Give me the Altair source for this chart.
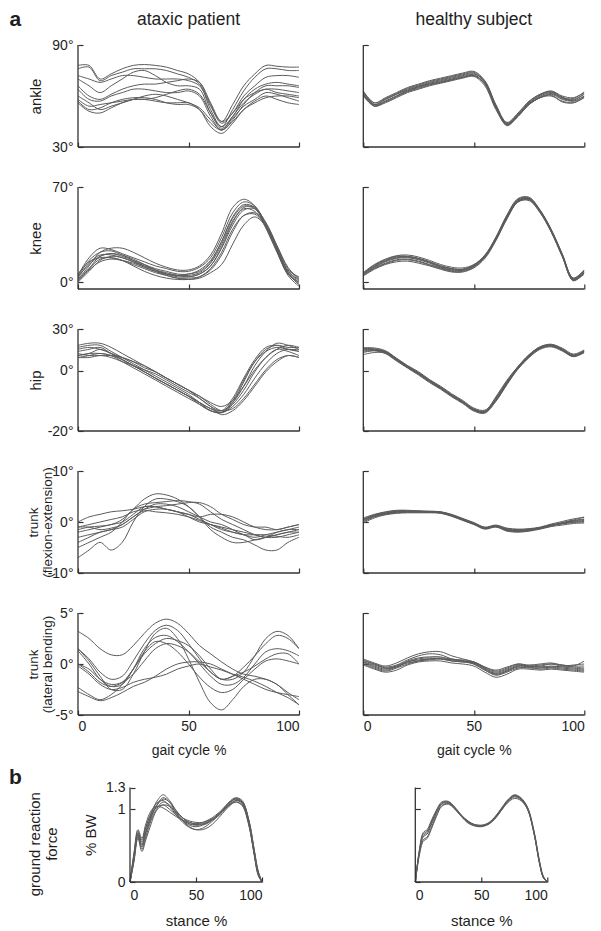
import altair as alt
import pandas as pd

# ---------------- data ----------------
GAIT_X = [0, 5, 10, 15, 20, 25, 30, 35, 40, 45, 50, 55, 60, 65, 70, 75, 80, 85, 90, 95, 100]
STANCE_X = [0, 3, 6, 9, 12, 16, 20, 25, 30, 35, 40, 45, 50, 55, 60, 65, 70, 75, 80, 85, 90, 94, 97, 100]

ANKLE_ATAXIC = [
    [78, 78, 70, 73, 76, 78, 78.5, 78, 77, 75, 73, 68, 55, 45, 55, 66, 73, 78, 77.5, 77, 77],
    [76, 77, 69, 72, 74, 76, 76, 76, 75, 73, 71, 67, 52, 42, 52, 63, 71, 76, 76, 75, 75],
    [72, 70, 68, 70, 72, 72, 71, 70, 70, 70, 69, 66, 54, 44, 50, 60, 66, 71, 72, 72, 71],
    [70, 66, 62, 66, 70, 74, 75, 72, 68, 66, 66, 64, 50, 42, 48, 58, 64, 67, 68, 67, 66],
    [66, 60, 58, 61, 64, 66, 67, 67, 68, 69, 70, 68, 56, 45, 50, 58, 62, 64, 64, 63, 62],
    [64, 58, 57, 60, 62, 64, 64, 63, 62, 62, 63, 60, 48, 40, 48, 56, 61, 64, 62, 61, 60],
    [58, 54, 55, 56, 57, 58, 58, 59, 61, 63, 64, 61, 50, 41, 47, 54, 58, 62, 61, 59, 57],
    [57, 52, 53, 56, 58, 59, 59, 58, 56, 55, 55, 52, 44, 40, 45, 52, 56, 59, 60, 60, 59],
    [56, 51, 50, 53, 56, 58, 58, 57, 56, 56, 56, 52, 42, 38, 44, 52, 57, 60, 58, 56, 55],
    [60, 56, 52, 54, 56, 58, 60, 61, 60, 58, 56, 53, 46, 40, 46, 55, 62, 66, 66, 66, 65],
]
ANKLE_HEALTHY = [
    [62, 55, 58, 61, 64, 66, 68, 69.5, 71, 72.5, 73.5, 68, 54, 44, 49, 56, 60, 62, 59, 58, 61],
    [61, 54, 57, 60, 63, 65, 67, 68.5, 70, 71.5, 72.5, 67, 53, 43, 48, 55, 59, 61, 58, 57, 60],
    [63, 56, 59, 62, 65, 67, 69, 70.5, 72, 73.5, 74.5, 69, 55, 44.5, 50, 57, 61, 63, 60, 59, 62],
    [60, 54, 56, 59, 62, 64, 66, 67.5, 69, 70.5, 71.5, 66, 52, 43, 48, 55, 59, 60, 57, 56, 59],
    [62, 55, 57, 60, 63, 65.5, 67.5, 69, 70.5, 72, 73, 68.5, 54.5, 43.5, 49, 56, 60.5, 62.5, 59.5, 57, 60],
    [61, 55, 58, 61, 63.5, 65.5, 67, 68, 69.5, 71, 72, 67.5, 53.5, 42.5, 48.5, 55.5, 59.5, 61.5, 58.5, 57.5, 61.5],
    [62.5, 56, 58.5, 61.5, 64.5, 66.5, 68.5, 70, 71.5, 73, 74, 68.5, 54, 44, 49.5, 56.5, 61, 62.5, 59, 58.5, 62.5],
    [60.5, 54.5, 56.5, 59.5, 62.5, 64.5, 66.5, 68, 69.5, 71, 72, 67, 53, 43.5, 48.5, 55, 59, 60.5, 56.5, 56, 59.5],
]

KNEE_ATAXIC = [
    [2, 12, 22, 25, 25, 22, 18, 14, 11, 9, 9, 12, 20, 36, 55, 61, 56, 40, 22, 6, 0],
    [5, 18, 25, 24, 21, 18, 15, 12, 10, 8, 8, 11, 18, 33, 51, 59, 56, 42, 24, 7, -2],
    [4, 16, 22, 23, 20, 16, 12, 9, 6, 5, 6, 8, 15, 30, 48, 57, 55, 42, 25, 8, 2],
    [1, 10, 19, 21, 19, 16, 13, 10, 8, 6, 6, 9, 16, 30, 47, 56, 54, 41, 23, 5, -3],
    [3, 14, 20, 20, 18, 15, 12, 9, 7, 5, 4, 6, 12, 25, 42, 53, 54, 44, 27, 10, 3],
    [6, 15, 18, 18, 16, 13, 10, 7, 5, 3, 3, 4, 9, 20, 37, 49, 51, 43, 27, 11, 2],
    [0, 8, 16, 19, 18, 15, 11, 8, 5, 3, 2, 4, 10, 22, 39, 49, 50, 41, 24, 7, 0],
    [2, 10, 17, 18, 16, 12, 8, 5, 3, 2, 2, 3, 7, 13, 28, 42, 48, 41, 26, 9, 4],
    [4, 13, 19, 21, 20, 17, 13, 9, 6, 4, 4, 6, 12, 26, 44, 55, 55, 43, 25, 8, 1],
    [1, 9, 15, 17, 16, 14, 11, 8, 6, 5, 5, 7, 14, 28, 45, 54, 52, 40, 23, 6, -1],
]
KNEE_HEALTHY = [
    [6, 11, 15, 17.5, 18, 16.5, 14, 11, 9, 9, 12, 19, 32, 48, 60, 61, 52, 38, 20, 2, 8],
    [7, 13, 17, 19.5, 20, 18.5, 16, 13, 11, 10.5, 13, 20, 33, 49, 61, 62, 53, 39, 21, 3, 9],
    [5, 10, 13.5, 16, 16.5, 15, 12.5, 10, 8, 8, 11, 18, 31, 47, 59, 60.5, 51.5, 37, 19, 1, 7],
    [6.5, 12, 16, 18.5, 19, 17.5, 15, 12, 10, 9.5, 12.5, 19.5, 32.5, 48.5, 60.5, 61.5, 52.5, 38.5, 20.5, 2.5, 8.5],
    [4.5, 9.5, 13, 15, 15.5, 14, 12, 9.5, 7.5, 7.5, 10.5, 17.5, 30.5, 46.5, 59, 60, 51, 37, 19, 1.5, 6],
    [6, 11.5, 15.5, 18, 18.5, 17, 14.5, 11.5, 9.5, 9, 12, 19, 31.5, 47.5, 60, 61.5, 52, 38, 20, 2, 7.5],
    [7, 12.5, 16.5, 19, 19, 17.5, 15, 12, 10, 9.5, 12.5, 19.5, 33, 49.5, 61.5, 62.5, 53, 38.5, 20.5, 3, 9],
    [5.5, 10.5, 14, 16.5, 17, 15.5, 13, 10.5, 8.5, 8.5, 11.5, 18.5, 31.5, 47, 59.5, 61, 52, 37.5, 19.5, 1.5, 7],
]

# hip axis of the reference is piecewise: 30° at the top, 0° at ~41% of the height, -20° at the bottom
HIP_ATAXIC = [
    [18.2, 19.7, 19.7, 16.7, 12.3, 7.9, 3.5, -0.4, -2.5, -4.5, -6.5, -9.2, -11.9, -13.3, -10.6, -5.2, 3.5, 13.8, 19.7, 18.2, 15.3],
    [16.7, 18.2, 18.2, 13.8, 9.4, 4.9, 0.5, -1.8, -3.8, -5.8, -7.9, -10.6, -13.3, -13.9, -10.6, -3.8, 6.4, 15.3, 18.2, 16.7, 16.7],
    [13.8, 15.3, 16.7, 12.3, 7.9, 3.5, -0.4, -2.5, -4.5, -6.5, -8.5, -11.2, -13.3, -13.9, -9.9, -3.1, 6.4, 13.8, 16.7, 15.3, 15.3],
    [10.8, 12.3, 15.3, 12.3, 9.4, 6.4, 2.0, -0.4, -2.5, -4.5, -6.5, -8.5, -10.6, -11.9, -9.9, -5.2, 0.5, 9.4, 15.3, 18.2, 16.7],
    [9.4, 10.8, 12.3, 10.8, 7.9, 3.5, -0.4, -2.5, -4.5, -6.5, -8.5, -10.6, -12.6, -13.9, -11.9, -7.9, -2.5, 4.9, 12.3, 15.3, 13.8],
    [12.3, 10.8, 10.8, 10.8, 9.4, 6.4, 3.5, -0.4, -2.5, -4.5, -6.5, -8.5, -11.2, -13.3, -12.6, -9.2, -4.5, 0.5, 7.9, 10.8, 9.4],
    [10.8, 12.3, 12.3, 10.8, 6.4, 2.0, -1.1, -3.1, -5.2, -7.2, -9.2, -11.2, -13.3, -13.9, -11.2, -6.5, -0.4, 9.4, 15.3, 13.8, 10.8],
    [9.4, 9.4, 10.8, 9.4, 6.4, 3.5, 0.5, -1.1, -3.1, -5.2, -7.2, -9.2, -11.9, -14.6, -13.3, -9.9, -5.2, -0.4, 6.4, 10.8, 9.4],
    [15.3, 16.7, 15.3, 12.3, 7.9, 3.5, -0.4, -2.5, -4.5, -6.5, -8.5, -10.6, -12.6, -13.3, -9.2, -2.5, 7.9, 16.7, 18.2, 15.3, 13.8],
]
HIP_HEALTHY = [
    [15.1, 15.1, 13.2, 7.9, 2.6, -1.0, -3.5, -5.7, -8.2, -10.4, -12.9, -13.6, -9.6, -4.1, 1.9, 10.3, 16.3, 18.0, 15.1, 10.8, 13.9],
    [16.5, 16.3, 14.3, 9.0, 3.6, -0.4, -3.0, -5.2, -7.7, -9.9, -12.4, -13.1, -9.0, -3.6, 2.8, 11.3, 17.2, 19.0, 16.2, 11.9, 14.9],
    [13.8, 14.2, 12.2, 6.9, 1.8, -1.5, -4.0, -6.2, -8.7, -10.9, -13.4, -14.1, -10.2, -4.7, 1.0, 9.3, 15.3, 17.1, 14.1, 10.0, 12.9],
    [11.5, 13.0, 12.6, 7.4, 2.2, -1.2, -3.7, -5.9, -8.4, -10.6, -13.1, -13.8, -9.9, -4.3, 1.5, 9.8, 15.8, 17.6, 14.6, 10.3, 13.3],
    [15.8, 15.6, 13.8, 8.6, 3.2, -0.7, -3.3, -5.5, -8.0, -10.2, -12.7, -13.4, -10.0, -4.4, 1.7, 10.6, 16.7, 18.5, 15.6, 11.3, 14.3],
    [14.4, 14.6, 12.8, 7.5, 2.3, -1.1, -3.7, -5.9, -8.4, -10.6, -13.1, -13.9, -9.2, -3.6, 2.4, 10.9, 16.5, 18.1, 14.8, 10.2, 13.5],
    [13.0, 14.4, 13.6, 8.3, 3.0, -0.8, -3.3, -5.6, -8.1, -10.3, -12.8, -13.7, -9.6, -4.0, 1.6, 10.0, 16.0, 17.8, 15.2, 11.0, 14.2],
    [16.0, 15.4, 13.5, 8.2, 2.8, -0.9, -3.5, -5.7, -8.2, -10.5, -13.0, -13.5, -8.7, -3.2, 2.9, 11.5, 17.0, 18.6, 15.3, 10.6, 13.8],
]

TRUNK_FE_ATAXIC = [
    [-7, -5.5, -4, -5.5, -4, 0, 3, 4.5, 4.5, 4, 3, 1, -1, -2, -3, -3.5, -4.5, -5.5, -5.5, -4, -3],
    [0, 1, 1.5, 2, 2.2, 2.5, 3, 3, 2.5, 2, 1.5, 1, 1.5, 1.5, 1, 0, -1, -1.5, -1.5, -1, -0.5],
    [-1, -0.5, 0, 0.5, 1, 2, 2.5, 3, 3.2, 3.5, 3.8, 3.8, 3, 1.5, 0.5, -0.5, -1, -1, -1.5, -1, -0.5],
    [-2, -1.5, -1, -0.5, 0, 1.5, 3, 3, 2.5, 2, 1, 0, -0.5, -1, -1.5, -2, -2.5, -3, -2.5, -2, -2],
    [-3, -2.5, -2, -1.5, -0.5, 1, 2.5, 3.5, 3.5, 3, 2, 1, 0, -0.5, -1.5, -2.5, -3, -2.5, -2, -1.5, -1],
    [-1.5, -1, -0.8, -0.5, 0.5, 2.5, 4.5, 5.5, 5.3, 4.5, 3, 1, -1.5, -3, -4, -4, -3.5, -3, -2.5, -2, -1.5],
    [-4, -3, -2, -1.5, -1, 0.5, 2, 2.5, 2.5, 2, 1.5, 0.5, -0.5, -1.5, -2, -2.5, -3.5, -3, -2, -1.5, -1.5],
    [-1, -1, -1.5, -1.2, -0.5, 1, 2.2, 2, 1.8, 1.5, 1, 0.3, -0.5, -1.2, -2, -2.5, -2.5, -2.5, -2.8, -3, -2.5],
    [-5, -4, -3, -2, 0, 2.5, 3.5, 3.8, 4, 4.2, 4, 3.5, 2, 0.5, -0.5, -1.5, -2.5, -3, -3, -2.5, -2],
]
TRUNK_FE_HEALTHY = [
    [0.3, 1.2, 1.7, 2, 2, 2, 2, 1.9, 1.3, 0.5, -0.3, -1.2, -0.8, -1.5, -1.7, -1.5, -1.2, -0.7, -0.3, 0.1, 0.3],
    [0.8, 1.5, 2, 2.3, 2.3, 2.2, 2.1, 2, 1.5, 0.7, -0.1, -1, -0.6, -1.2, -1.4, -1.3, -1, -0.4, 0.1, 0.6, 0.9],
    [-0.2, 0.8, 1.4, 1.7, 1.8, 1.8, 1.8, 1.7, 1.1, 0.3, -0.5, -1.4, -1, -1.8, -2, -1.8, -1.4, -0.9, -0.6, -0.3, -0.2],
    [0.5, 1.3, 1.8, 2.1, 2.1, 2.1, 2, 1.8, 1.2, 0.4, -0.4, -1.1, -0.7, -1.4, -1.6, -1.6, -1.3, -0.8, -0.2, 0.3, 0.6],
    [0, 1, 1.5, 1.8, 1.9, 1.9, 1.9, 1.8, 1.2, 0.4, -0.4, -1.3, -0.9, -1.7, -1.9, -1.7, -1.2, -0.6, -0.4, -0.1, 0],
    [0.6, 1.4, 1.9, 2.2, 2.2, 2.1, 2.1, 2, 1.4, 0.6, -0.2, -1.1, -0.8, -1.3, -1.5, -1.4, -1.1, -0.7, -0.1, 0.4, 1],
    [0.1, 1.1, 1.6, 1.9, 2, 2, 1.9, 1.8, 1.3, 0.5, -0.3, -1.3, -0.9, -1.6, -1.8, -1.6, -1.3, -0.7, -0.3, 0, 0.1],
    [0.4, 1.2, 1.7, 2, 2.1, 2.1, 2, 1.9, 1.3, 0.6, -0.3, -1.2, -0.7, -1.5, -1.7, -1.5, -1.1, -0.5, -0.2, 0.2, 0.5],
]

TRUNK_LB_ATAXIC = [
    [3.2, 2.5, 1.5, 0.9, 0.9, 1.8, 3, 4, 4.4, 4, 3, 1.8, 1, 0.2, -0.5, -1, -1.2, -1.5, -2, -3, -4],
    [1.5, 0.5, -0.8, -1.5, -1.2, 0.3, 2, 3.3, 3.8, 3.3, 2, 0.5, -0.8, -1.5, -1.5, -0.8, 0.8, 2.5, 3.2, 2.8, 1.5],
    [1.3, 0, -1.5, -2.2, -2, -0.5, 1.5, 2.6, 2.8, 2.2, 1.2, 0, -1.2, -2, -2, -1.3, 0, 1.2, 1.5, 1.3, 0.8],
    [0, -0.8, -1.8, -2.2, -1.8, -0.5, 1.2, 2.2, 2, 1.2, 0, -1.3, -2.3, -2.8, -2.5, -1.5, -0.5, 0.3, 0.5, 0.3, 0],
    [-0.2, -1, -2, -2.5, -2.3, -1.8, -1.5, -1.3, -1, -0.5, -0.2, 0, -0.3, -0.6, -1, -1.3, -1.7, -2.2, -2.8, -3.3, -4],
    [-2.3, -3, -3.5, -3, -2, -0.5, 1, 2, 2.5, 2.3, 1.8, 0.8, -0.5, -1.5, -1.2, -0.8, -0.2, 0.5, 1, 1, 0],
    [-2.7, -3.2, -3.6, -3.3, -2.8, -2.2, -1.8, -1.2, -0.5, 0, 0.2, 0.2, 0, -0.5, -1, -1.5, -2, -2.5, -2.8, -3, -3.2],
    [1.5, 0.3, -1.2, -2.5, -2.5, -1, 1.2, 3, 3.5, 2.5, 0.5, -1.8, -3.8, -4.5, -3.5, -2.2, -1.5, -1.5, -2, -2.8, -3.5],
    [0, -0.5, -1.5, -2, -1.8, -1, 0.3, 1.5, 2, 1.8, 1.2, 0.2, -0.8, -1.5, -1.2, -0.3, 0.8, 2, 2.8, 2.5, 1.5],
]
TRUNK_LB_HEALTHY = [
    [0.2, -0.2, -0.5, -0.2, 0.3, 0.6, 0.7, 0.7, 0.4, 0.3, 0.1, -0.5, -0.9, -0.6, -0.2, -0.3, -0.3, -0.2, -0.3, -0.4, -0.5],
    [0.5, 0.1, -0.2, 0.1, 0.6, 1, 1.2, 1.2, 0.8, 0.5, 0.2, -0.3, -0.6, -0.3, 0, -0.1, 0, 0.1, -0.1, -0.2, -0.2],
    [-0.1, -0.5, -0.8, -0.6, -0.1, 0.2, 0.3, 0.3, 0.1, 0, -0.2, -0.8, -1.3, -1, -0.5, -0.5, -0.6, -0.5, -0.6, -0.7, -0.8],
    [0.3, 0, -0.4, -0.3, 0.2, 0.5, 0.6, 0.5, 0.3, 0.2, 0.2, -0.3, -0.7, -0.4, 0, -0.2, -0.2, 0, -0.1, -0.2, 0.3],
    [0, -0.4, -0.7, -0.4, 0, 0.3, 0.4, 0.5, 0.3, 0.2, 0, -0.6, -1.1, -0.8, -0.4, -0.3, -0.5, -0.4, -0.5, -0.6, -0.7],
    [0.4, 0, -0.3, -0.1, 0.4, 0.8, 1, 0.9, 0.5, 0.3, 0.1, -0.4, -0.8, -0.5, -0.1, -0.2, -0.1, 0, -0.2, -0.1, 0],
    [0.1, -0.3, -0.6, -0.3, 0.2, 0.4, 0.5, 0.5, 0.4, 0.4, 0.2, -0.4, -1, -0.7, -0.3, -0.4, -0.4, -0.3, -0.4, -0.5, -0.6],
    [0.2, -0.1, -0.4, -0.2, 0.1, 0.3, 0.5, 0.6, 0.5, 0.3, 0, -0.6, -1, -0.7, -0.2, -0.2, -0.3, -0.3, -0.2, -0.3, -0.4],
]

GRF_ATAXIC = [
    [0, 0.35, 0.70, 0.55, 0.75, 0.95, 1.10, 1.20, 1.12, 0.98, 0.88, 0.82, 0.80, 0.82, 0.86, 0.92, 1.00, 1.10, 1.16, 1.12, 0.85, 0.45, 0.15, 0],
    [0, 0.30, 0.65, 0.50, 0.70, 0.90, 1.05, 1.16, 1.10, 0.95, 0.85, 0.78, 0.76, 0.78, 0.82, 0.90, 0.98, 1.08, 1.14, 1.10, 0.82, 0.42, 0.12, 0],
    [0, 0.40, 0.72, 0.60, 0.80, 0.98, 1.04, 1.02, 0.96, 0.90, 0.85, 0.82, 0.80, 0.80, 0.84, 0.90, 0.98, 1.06, 1.12, 1.08, 0.80, 0.40, 0.12, 0],
    [0, 0.32, 0.62, 0.45, 0.62, 0.85, 1.00, 1.10, 1.06, 0.94, 0.84, 0.76, 0.72, 0.72, 0.76, 0.84, 0.94, 1.04, 1.10, 1.05, 0.78, 0.38, 0.10, 0],
    [0, 0.38, 0.68, 0.52, 0.70, 0.92, 1.08, 1.12, 1.04, 0.92, 0.82, 0.75, 0.72, 0.74, 0.80, 0.88, 0.98, 1.08, 1.15, 1.11, 0.84, 0.44, 0.14, 0],
    [0, 0.28, 0.60, 0.42, 0.58, 0.80, 0.98, 1.06, 1.04, 0.96, 0.88, 0.84, 0.82, 0.82, 0.85, 0.90, 0.97, 1.05, 1.10, 1.06, 0.80, 0.40, 0.12, 0],
    [0, 0.36, 0.66, 0.58, 0.76, 0.94, 1.02, 1.06, 1.00, 0.92, 0.85, 0.80, 0.79, 0.80, 0.83, 0.88, 0.96, 1.06, 1.12, 1.10, 0.86, 0.46, 0.16, 0],
    [0, 0.30, 0.64, 0.48, 0.66, 0.88, 1.04, 1.14, 1.10, 0.98, 0.88, 0.80, 0.78, 0.79, 0.83, 0.90, 0.99, 1.09, 1.14, 1.08, 0.80, 0.40, 0.10, 0],
]
GRF_HEALTHY = [
    [0, 0.40, 0.62, 0.66, 0.78, 0.95, 1.07, 1.09, 1.01, 0.90, 0.82, 0.78, 0.77, 0.80, 0.88, 1.00, 1.12, 1.19, 1.15, 1.02, 0.68, 0.28, 0.07, 0],
    [0, 0.42, 0.66, 0.70, 0.82, 0.98, 1.09, 1.10, 1.02, 0.91, 0.83, 0.78, 0.77, 0.79, 0.86, 0.98, 1.10, 1.17, 1.13, 1.00, 0.66, 0.27, 0.06, 0],
    [0, 0.38, 0.58, 0.62, 0.74, 0.92, 1.05, 1.08, 1.01, 0.91, 0.83, 0.79, 0.78, 0.81, 0.89, 1.01, 1.13, 1.20, 1.16, 1.03, 0.70, 0.30, 0.08, 0],
    [0, 0.41, 0.64, 0.68, 0.80, 0.96, 1.08, 1.10, 1.02, 0.90, 0.81, 0.77, 0.76, 0.79, 0.87, 0.99, 1.11, 1.18, 1.14, 1.01, 0.67, 0.27, 0.06, 0],
    [0, 0.36, 0.56, 0.60, 0.72, 0.90, 1.04, 1.07, 1.00, 0.90, 0.82, 0.78, 0.77, 0.80, 0.87, 0.98, 1.09, 1.15, 1.12, 1.00, 0.66, 0.26, 0.06, 0],
    [0, 0.43, 0.68, 0.72, 0.84, 0.99, 1.10, 1.11, 1.03, 0.92, 0.84, 0.79, 0.78, 0.80, 0.88, 1.00, 1.12, 1.19, 1.15, 1.02, 0.68, 0.28, 0.07, 0],
]

ROWS = [
    # (ataxic, healthy, y-domain, y-ticks, y-title, piecewise y-range or None)
    (ANKLE_ATAXIC, ANKLE_HEALTHY, [30, 90], [30, 90], "ankle", None),
    (KNEE_ATAXIC, KNEE_HEALTHY, [-5, 70], [0, 70], "knee", None),
    (HIP_ATAXIC, HIP_HEALTHY, [-20, 0, 30], [-20, 0, 30], "hip", [102, 41.5, 0]),
    (TRUNK_FE_ATAXIC, TRUNK_FE_HEALTHY, [-10, 10], [-10, 0, 10], ["trunk", "(flexion-extension)"], None),
    (TRUNK_LB_ATAXIC, TRUNK_LB_HEALTHY, [-5, 5], [-5, 0, 5], ["trunk", "(lateral bending)"], None),
]
COLUMN_TITLES = ["ataxic patient", "healthy subject"]
GAIT_TICKS = [0, 50, 100]
GRF_TICKS_Y = [0, 1, 1.3]

# ---------------- styling / layout ----------------
FONT = "Liberation Sans"
INK = "#1e1e1e"
AXIS_INK = "#333333"
LINE_INK = "#5c5c5c"
W, H, TICK = 221, 102, 5
GRF_H = 127
GRF_X_RANGE = [52, 184]
GRF_Y_RANGE = [127, 32.5]
TITLE_X = -42.7   # first line of the rotated row titles, relative to the panel's left edge


def long_table(curves, xs):
    rows = []
    for i, c in enumerate(curves):
        for x, v in zip(xs, c):
            rows.append({"trial": i, "x": x, "v": v})
    return pd.DataFrame(rows)


def text_layer(text, x, y, size, weight="normal", angle=0, line_height=16):
    kw = dict(font=FONT, fontSize=size, fontWeight=weight, align="center",
              baseline="middle", color=INK, lineBreak="\n", lineHeight=line_height)
    if angle:
        kw["angle"] = angle
    return alt.Chart(pd.DataFrame({"t": [text]})).mark_text(**kw).encode(
        x=alt.value(x), y=alt.value(y), text="t:N")


def panel(curves, xs, ydom, yticks, *, show_ylabels, ytitle=None, ytitle_x=TITLE_X,
          xlabels=False, xtitle=None, xtitle_y=40.0, height=H, xrange=None, yrange=None,
          axis_x0=0.0, ylabel_expr="datum.value + '°'", label_size=14, xlabel_pad=4,
          title_size=15, xtitle_size=14, annotations=()):
    xscale = dict(domain=[0, 100], nice=False, zero=False)
    if xrange is not None:
        xscale["range"] = xrange
    yscale = dict(domain=ydom, nice=False, zero=False)
    if yrange is not None:
        yscale["range"] = yrange
    ymid = (yrange[0] + yrange[-1]) / 2 if yrange is not None else height / 2
    xmid = (xrange[0] + xrange[1]) / 2 if xrange is not None else W / 2

    yaxis = dict(values=yticks, domain=False, grid=False, tickSize=TICK, tickColor=AXIS_INK,
                 tickWidth=1.2, offset=-(axis_x0 + TICK), labels=show_ylabels,
                 labelExpr=ylabel_expr, labelPadding=5, labelFontSize=label_size,
                 labelFont=FONT, labelColor=INK)
    if ytitle is not None:
        two_line = isinstance(ytitle, list)
        tx = ytitle_x - 1.5 if two_line else ytitle_x
        yaxis.update(titleX=tx - (axis_x0 + TICK), titleY=ymid, titleAngle=270,
                     titleAlign="center", titleBaseline="middle", titleFont=FONT,
                     titleFontSize=13.5 if two_line else title_size, titleFontWeight="normal",
                     titleColor=INK, titleLineHeight=14)
    xaxis = dict(values=GAIT_TICKS, domain=False, grid=False, tickSize=TICK, tickColor=AXIS_INK,
                 tickWidth=1.2, offset=-TICK, labels=xlabels, labelExpr="'' + datum.value",
                 labelPadding=xlabel_pad, labelFontSize=label_size, labelFont=FONT,
                 labelColor=INK)
    if xtitle is not None:
        xaxis.update(titleX=xmid, titleY=xtitle_y, titleAlign="center", titleBaseline="middle",
                     titleFont=FONT, titleFontSize=xtitle_size, titleFontWeight="normal",
                     titleColor=INK)

    def xenc(field):
        return alt.X(field, type="quantitative", scale=alt.Scale(**xscale),
                     axis=alt.Axis(**xaxis), title=xtitle)

    def yenc(field):
        return alt.Y(field, type="quantitative", scale=alt.Scale(**yscale),
                     axis=alt.Axis(**yaxis), title=ytitle)

    lines = alt.Chart(long_table(curves, xs)).mark_line(
        color=LINE_INK, strokeWidth=1.0, interpolate="catmull-rom", clip=True
    ).encode(x=xenc("x"), y=yenc("v"), detail="trial:N")
    frame = pd.DataFrame({"x": [0], "x1": [100], "v": [ydom[0]], "v1": [ydom[-1]]})
    xline = alt.Chart(frame).mark_rule(color=AXIS_INK, strokeWidth=1.3).encode(
        x=xenc("x"), x2="x1:Q", y=yenc("v"))
    yline = alt.Chart(frame).mark_rule(color=AXIS_INK, strokeWidth=1.3).encode(
        x=xenc("x"), y=yenc("v"), y2="v1:Q")
    return alt.layer(lines, xline, yline, *annotations).properties(width=W, height=height)


cells = []
for r, (atx, hlt, ydom, yticks, ytitle, yrange) in enumerate(ROWS):
    last = r == len(ROWS) - 1
    for c, curves in enumerate([atx, hlt]):
        ann = []
        if r == 0:
            ann.append(text_layer(COLUMN_TITLES[c], W / 2, -25.5, 17.5))
            if c == 0:
                ann.append(text_layer("a", -62.7, -25.5, 21, weight="bold"))
        cells.append(panel(
            curves, GAIT_X, ydom, yticks,
            show_ylabels=(c == 0),
            ytitle=ytitle if c == 0 else None,
            xlabels=last,
            xtitle="gait cycle %" if last else None,
            xtitle_y=40.5,
            yrange=yrange,
            annotations=ann,
        ))

grf_left_ann = [
    text_layer("b", -62.7, 22.5, 21, weight="bold"),
    text_layer("ground reaction\nforce", TITLE_X, 89.2, 15, angle=270, line_height=16.7),
]
for c, curves in enumerate([GRF_ATAXIC, GRF_HEALTHY]):
    cells.append(panel(
        curves, STANCE_X, [0, 1.3], GRF_TICKS_Y,
        show_ylabels=(c == 0),
        ytitle="% BW" if c == 0 else None,
        ytitle_x=12.3,
        xlabels=True, xtitle="stance %", xtitle_y=43.8,
        height=GRF_H, xrange=GRF_X_RANGE, yrange=GRF_Y_RANGE, axis_x0=52,
        ylabel_expr="'' + datum.value", label_size=14, xlabel_pad=6, title_size=15,
        xtitle_size=15,
        annotations=grf_left_ann if c == 0 else (),
    ))

chart = alt.concat(
    *cells, columns=2, spacing={"row": 40, "column": 64.3}, bounds="flush"
).properties(
    padding={"left": 0, "top": 0, "right": 5, "bottom": 5}, background="white"
).configure_view(stroke=None)

chart.save("out.html", embed_options={"renderer": "svg", "actions": False})
